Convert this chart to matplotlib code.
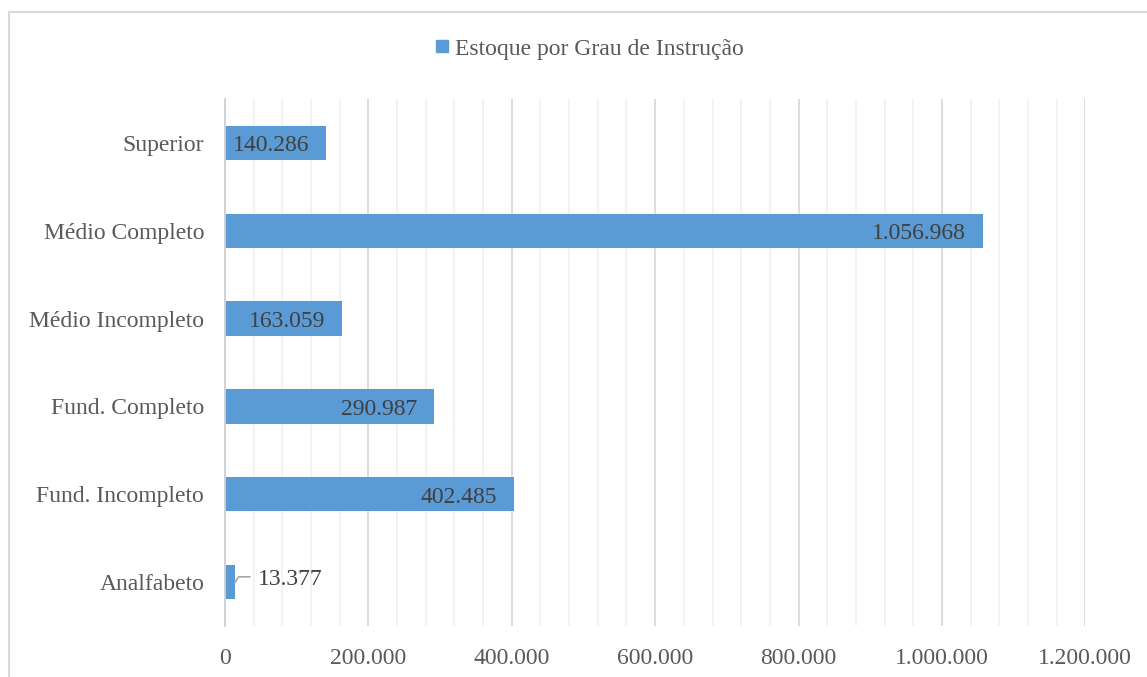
import matplotlib
matplotlib.use("Agg")
import matplotlib.pyplot as plt
from matplotlib.patches import Rectangle
from matplotlib.ticker import MultipleLocator, FuncFormatter

# ---------------------------------------------------
# Data
# ---------------------------------------------------

categories = [
    "Analfabeto",
    "Fund. Incompleto",
    "Fund. Completo",
    "Médio Incompleto",
    "Médio Completo",
    "Superior",
]

values = [13377, 402485, 290987, 163059, 1056968, 140286]

series_name = "Estoque por Grau de Instrução"


def br_fmt(v, pos=None):
    return f"{int(v):,}".replace(",", ".")


# ---------------------------------------------------
# Style
# ---------------------------------------------------

plt.rcParams["font.family"] = ["Liberation Serif", "DejaVu Serif"]

bar_color = "#5B9BD5"
text_color = "#404040"
tick_color = "#595959"

fig = plt.figure(figsize=(11.47, 6.77), dpi=100)
ax = fig.add_axes([0.1962, 0.0753, 0.7500, 0.7785])

pos = list(range(len(categories)))
ax.barh(pos, values, height=0.39, color=bar_color, zorder=3)

ax.set_xlim(0, 1200000)
ax.set_ylim(-0.5, len(categories) - 0.5)
ax.set_yticks(pos)
ax.set_yticklabels(categories)

ax.xaxis.set_major_locator(MultipleLocator(200000))
ax.xaxis.set_minor_locator(MultipleLocator(40000))
ax.xaxis.set_major_formatter(FuncFormatter(br_fmt))

ax.grid(axis="x", which="major", color="#D9D9D9", linewidth=1.3, zorder=0)
ax.grid(axis="x", which="minor", color="#F2F2F2", linewidth=1.3, zorder=0)

for side in ["top", "right", "bottom"]:
    ax.spines[side].set_visible(False)
ax.spines["left"].set_color("#D0D0D0")
ax.spines["left"].set_linewidth(1.3)
ax.spines["left"].set_zorder(4)

ax.tick_params(axis="x", which="both", length=0, pad=16,
               labelsize=17, labelcolor=tick_color)
ax.tick_params(axis="y", length=0, pad=15, labelsize=17, labelcolor=tick_color)

# ---------------------------------------------------
# Data labels
# ---------------------------------------------------

for i, v in enumerate(values):
    if v < 50000:
        # outside label with leader line
        ax.plot([v, v + 5600, v + 21000], [i - 0.01, i + 0.06, i + 0.06],
                color="#A6A6A6", linewidth=1.2, zorder=4)
        ax.annotate(br_fmt(v), xy=(v, i), xytext=(17, 2),
                    textcoords="offset points", ha="left", va="center",
                    fontsize=17, color=text_color, zorder=5)
    else:
        ax.annotate(br_fmt(v), xy=(v, i), xytext=(-12, -2),
                    textcoords="offset points", ha="right", va="center",
                    fontsize=17, color=text_color, zorder=5)

# ---------------------------------------------------
# Legend and frame
# ---------------------------------------------------

handle = plt.Line2D([], [], marker="s", linestyle="none",
                    markersize=8.5, color=bar_color)
fig.legend([handle], [series_name], loc="center",
           bbox_to_anchor=(0.513, 0.928), frameon=False,
           fontsize=17, labelcolor=tick_color,
           handletextpad=0.15, handlelength=0.8)

fig.patches.append(Rectangle((9 / 1147, -0.05), 1.2, 1 - 12 / 677 + 0.05,
                             transform=fig.transFigure, fill=False,
                             edgecolor="#D9D9D9", linewidth=1.5))

fig.savefig("out.png", dpi=100)
